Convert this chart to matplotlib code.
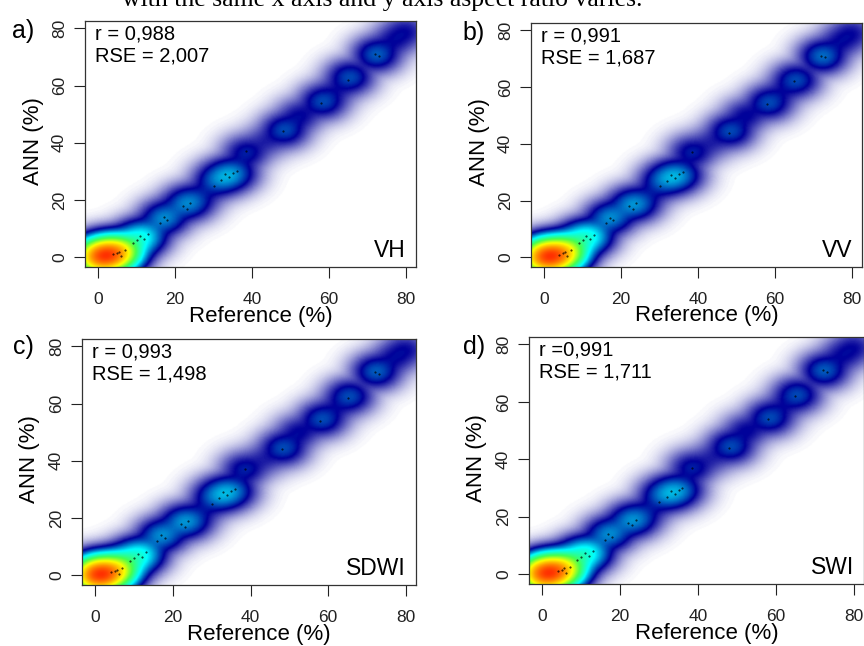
import numpy as np
import matplotlib
matplotlib.use('agg')
import matplotlib.pyplot as plt
from matplotlib.colors import LinearSegmentedColormap

plt.rcParams['font.family'] = ['Liberation Sans', 'DejaVu Sans']

########################################################################
# data -----------------------------------------------------------------
########################################################################
panel_tags  = ['a)', 'b)', 'c)', 'd)']
panel_names = ['VH', 'VV', 'SDWI', 'SWI']
r_text      = ['r = 0,988', 'r = 0,991', 'r = 0,993', 'r =0,991']
rse_text    = ['RSE = 2,007', 'RSE = 1,687', 'RSE = 1,498', 'RSE = 1,711']

# cluster centres (reference %) shared by all four models
ref_vals = [0, 1.5, 3, 5, 7, 10, 12, 16.5, 18, 22.5, 24.5, 28, 31, 33.5, 35.5,
            38.5, 43.5, 48.5, 52.5, 58.5, 62, 65.5, 72.5, 77, 80]
# ANN estimate at each cluster
ann_vh   = [0, 0.5, 0.8, 1.5, 3, 6, 7.5, 13, 14.5, 18.5, 19.5, 23, 27, 28.5, 29.5,
            36.5, 40.5, 44.5, 49.5, 54.5, 58.5, 63, 71, 76, 79]
ann_vv   = [0, 0.3, 0.6, 1.5, 3.5, 6.5, 7.5, 13.5, 14.5, 18.5, 19, 23, 27, 28.5, 29,
            37, 40.5, 44.5, 50, 54.5, 58.5, 62.5, 71, 76, 79]
ann_sdwi = [0, 0.3, 0.6, 1.5, 3.5, 6, 7.5, 13.5, 14.5, 18.5, 19, 23, 27.5, 28.7, 29.5,
            37, 40.5, 44.5, 50, 54.6, 58.5, 62.6, 71.3, 76, 79]
ann_swi  = [0, 0.4, 0.7, 1.5, 3.5, 6.5, 7.5, 13.5, 14.5, 18.5, 19.5, 23, 27.5, 28.5, 29.5,
            37, 40.5, 44.5, 50, 54.5, 58.5, 62.5, 71, 76, 79]
# number of samples in each cluster
n_vh     = [240, 280, 270, 170, 22, 9, 5, 2, 1.6, 2, 1.6, 0.4, 2, 3, 1.6, 0.9, 0.3, 1.6, 0.6, 1.6, 0.3, 1.6, 2, 0.5, 0.5]
n_vv     = [320, 280, 220, 140, 24, 10, 6, 2, 1.6, 2.4, 1.6, 0.4, 2, 3.2, 1.6, 0.9, 0.3, 1.6, 0.6, 1.6, 0.3, 1.6, 2.4, 0.5, 0.5]
n_sdwi   = [340, 270, 200, 120, 24, 10, 6, 2, 1.6, 2.4, 1.6, 0.4, 2, 3.2, 1.6, 0.9, 0.3, 1.6, 0.6, 1.6, 0.3, 1.6, 2, 0.5, 0.5]
n_swi    = [300, 290, 230, 140, 24, 10, 6, 2, 1.6, 2.4, 1.6, 0.4, 2, 3.2, 1.6, 0.9, 0.3, 1.6, 0.6, 1.6, 0.3, 1.6, 2, 0.5, 0.5]

ann_all = [ann_vh, ann_vv, ann_sdwi, ann_swi]
n_all   = [n_vh, n_vv, n_sdwi, n_swi]

# single low-density samples drawn as dots
dot_ref = [4, 5, 6, 5.5, 7, 9, 10, 11, 12, 13, 16, 17, 18, 22, 24, 23,
           30, 32, 33, 34, 35, 36, 38.5, 48, 58, 65, 72, 73]
dot_ann = [1, 1.5, 0.5, 2, 2.5, 5, 6, 7.5, 6.5, 8, 12, 14, 13, 18, 19, 17,
           25, 27, 29, 28, 29.5, 30, 37, 44, 54, 62, 71, 70.5]

########################################################################
# layout (pixels) ------------------------------------------------------
########################################################################
W, H = 864, 646
boxes = [(85, 21, 416, 267), (531, 23, 862, 267),
         (82, 339, 416, 585), (529, 337, 864, 584)]
tag_pos = [(23, 31), (474, 33), (23, 347), (474, 347)]
lim = (-3.4, 82.6)

colramp = LinearSegmentedColormap.from_list(
    'smooth', ['white', '#000099', '#00FEFF', '#45FE4F', '#FCFF00', '#FF9400', '#FF3100'])

def smooth_image(xs, ys, ns, bw=2.5, npix=400):
    g = np.linspace(lim[0], lim[1], npix)
    X, Y = np.meshgrid(g, g)
    f = np.zeros_like(X)
    for x, y, n in zip(xs, ys, ns):
        f += n * np.exp(-((X - x)**2 + (Y - y)**2) / (2 * bw**2))
    return (f / f.max())**0.25

fig = plt.figure(figsize=(W / 100, H / 100), dpi=100)

fig.text(382 / W, 1 - 6 / H, 'with the same x axis and y axis aspect ratio varies.',
         ha='center', va='baseline', fontsize=18.5, family='Liberation Serif')

for i in range(4):
    l, t, r, b = boxes[i]
    ax = fig.add_axes([l / W, 1 - b / H, (r - l) / W, (b - t) / H])
    img = smooth_image(ref_vals, ann_all[i], n_all[i])
    ax.imshow(img, cmap=colramp, vmin=0, vmax=1, origin='lower',
              extent=(lim[0], lim[1], lim[0], lim[1]), aspect='auto',
              interpolation='bilinear')
    ax.plot(dot_ref, dot_ann, 'k.', ms=1.0, alpha=0.8)
    ax.set_xlim(lim)
    ax.set_ylim(lim)
    ax.set_xticks([0, 20, 40, 60, 80])
    ax.set_yticks([0, 20, 40, 60, 80])
    ax.tick_params(direction='out', length=8, width=0.8, labelsize=12.5,
                   colors='#222222')
    ax.tick_params(axis='x', pad=10)
    ax.tick_params(axis='y', labelrotation=90, pad=5)
    for lab in ax.get_yticklabels():
        lab.set_va('center')
    for s in ax.spines.values():
        s.set_linewidth(0.9)
        s.set_color('#333333')

    ax.text(0.53, -0.2, 'Reference (%)', transform=ax.transAxes,
            ha='center', va='center', fontsize=16)
    ax.text(-0.157, 0.51, 'ANN (%)', transform=ax.transAxes, rotation=90,
            ha='center', va='center', fontsize=16)

    ax.text(0.03, 0.985, r_text[i], transform=ax.transAxes, ha='left', va='top',
            fontsize=14.5)
    ax.text(0.03, 0.895, rse_text[i], transform=ax.transAxes, ha='left', va='top',
            fontsize=14.5)
    ax.text(0.97, 0.04, panel_names[i], transform=ax.transAxes, ha='right',
            va='baseline', fontsize=16.5)

    tx, ty = tag_pos[i]
    fig.text(tx / W, 1 - ty / H, panel_tags[i], ha='center', va='center', fontsize=18)

fig.savefig('out.png', dpi=100)
